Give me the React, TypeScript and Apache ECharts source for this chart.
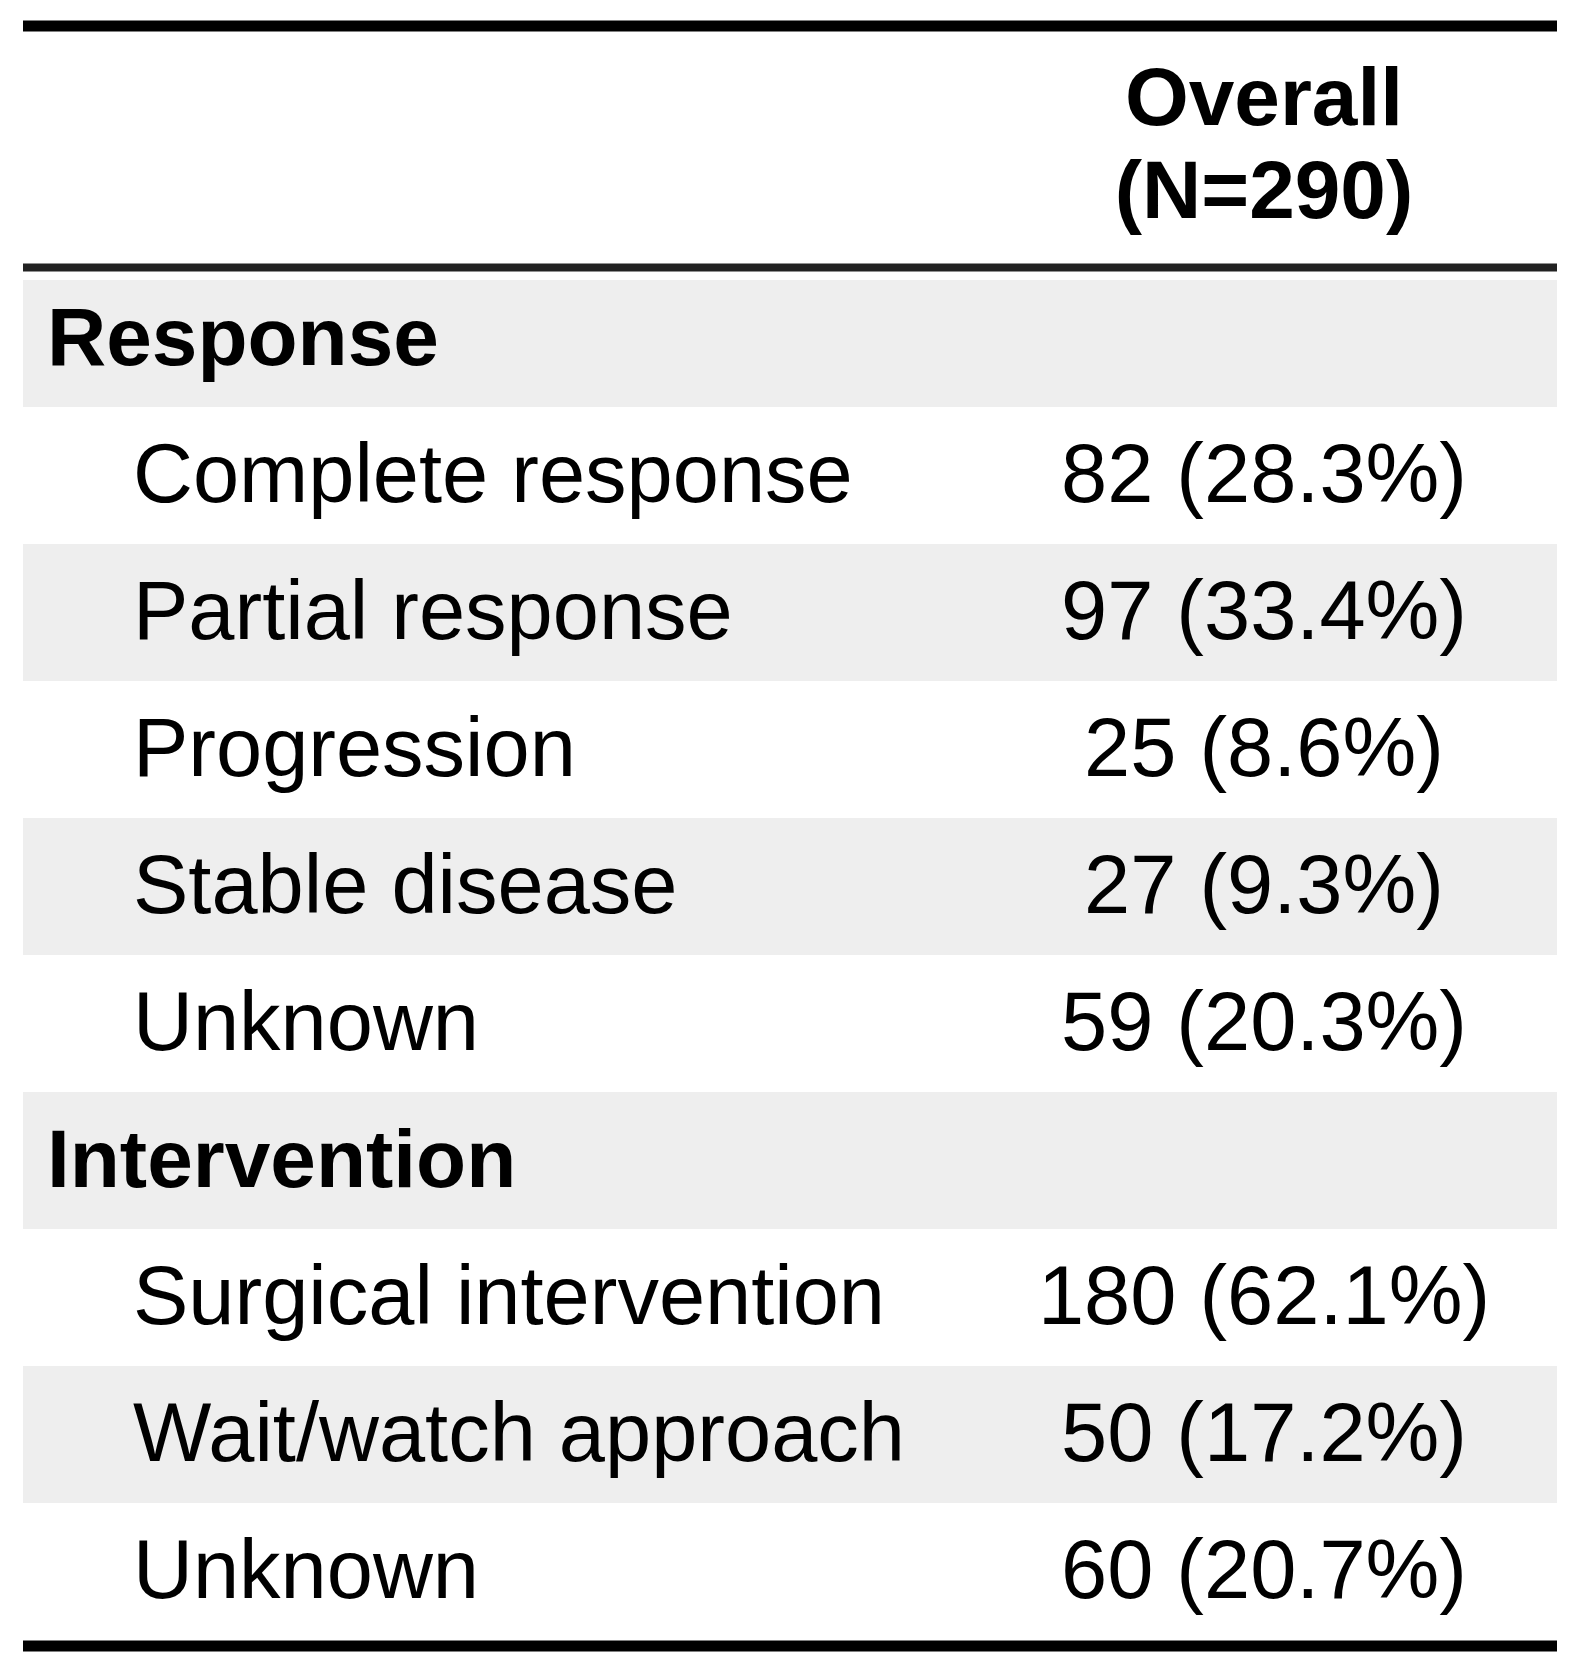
import React, { useEffect, useRef } from "react";
import * as echarts from "echarts";

// ---- data ----
const columnTitle = "Overall";
const totalN = 290;
const groupNames = ["Response", "Intervention"];
const responseLevels = ["Complete response", "Partial response", "Progression", "Stable disease", "Unknown"];
const responseCounts = [82, 97, 25, 27, 59];
const responsePcts = [28.3, 33.4, 8.6, 9.3, 20.3];
const interventionLevels = ["Surgical intervention", "Wait/watch approach", "Unknown"];
const interventionCounts = [180, 50, 60];
const interventionPcts = [62.1, 17.2, 20.7];

type Row = { label: string; value: string; group: boolean };

function buildRows(): Row[] {
  const rows: Row[] = [];
  const add = (g: string, levels: string[], counts: number[], pcts: number[]) => {
    rows.push({ label: g, value: "", group: true });
    levels.forEach((l, i) => rows.push({ label: l, value: `${counts[i]} (${pcts[i].toFixed(1)}%)`, group: false }));
  };
  add(groupNames[0], responseLevels, responseCounts, responsePcts);
  add(groupNames[1], interventionLevels, interventionCounts, interventionPcts);
  return rows;
}

const W = 1589;
const H = 1676;
const FONT = "'Liberation Sans', Arial, sans-serif";
const FS_BOLD = 82;
const FS = 83;

export default function App() {
  const ref = useRef<HTMLDivElement>(null);
  useEffect(() => {
    if (!ref.current) return;
    const chart = echarts.init(ref.current, undefined, { renderer: "svg" });
    const rows = buildRows();
    const left = 23, right = 1557, top = 270, bottom = 1640;
    const valueX = 1264 - left;

    chart.setOption({
      animation: false,
      backgroundColor: "#ffffff",
      grid: { left, top, width: right - left, height: bottom - top },
      xAxis: { type: "value", min: 0, max: right - left, show: false },
      yAxis: { type: "category", inverse: true, data: rows.map((r) => r.label), show: false },
      series: [
        {
          type: "custom",
          coordinateSystem: "cartesian2d",
          data: rows.map((_, i) => [0, i]),
          renderItem: (params: any, api: any) => {
            const i = params.dataIndex;
            const r = rows[i];
            const c = api.coord([0, i]);
            const h = api.size([0, 1])[1];
            const cs = params.coordSys;
            const children: any[] = [];
            if (i % 2 === 0) {
              children.push({
                type: "rect",
                shape: { x: cs.x, y: c[1] - h / 2, width: cs.width, height: h },
                style: { fill: "#eeeeee" },
              });
            }
            children.push({
              type: "text",
              style: {
                text: r.label,
                x: cs.x + (r.group ? 24 : 110),
                y: c[1] - 2,
                align: "left",
                verticalAlign: "middle",
                fontSize: r.group ? FS_BOLD : FS,
                fontFamily: FONT,
                fontWeight: r.group ? "bold" : "normal",
                fill: "#000000",
              },
            });
            if (r.value) {
              const vx = api.coord([valueX, i])[0];
              children.push({
                type: "text",
                style: {
                  text: r.value,
                  x: vx,
                  y: c[1] - 2,
                  align: "center",
                  verticalAlign: "middle",
                  fontSize: FS,
                  fontFamily: FONT,
                  fontWeight: "normal",
                  fill: "#000000",
                },
              });
            }
            return { type: "group", children };
          },
        },
      ],
      graphic: [
        { type: "rect", z: 50, shape: { x: left, y: 262, width: right - left, height: 18 }, style: { fill: "#ffffff" } },
        { type: "line", z: 60, shape: { x1: left, y1: 26, x2: right, y2: 26 }, style: { stroke: "#000000", lineWidth: 11 } },
        { type: "line", z: 60, shape: { x1: left, y1: 267.5, x2: right, y2: 267.5 }, style: { stroke: "#222222", lineWidth: 8 } },
        { type: "line", z: 60, shape: { x1: left, y1: 1646, x2: right, y2: 1646 }, style: { stroke: "#000000", lineWidth: 11 } },
        {
          type: "text", z: 60,
          style: { text: columnTitle, x: 1264, y: 96, align: "center", verticalAlign: "middle", fontSize: FS_BOLD, fontFamily: FONT, fontWeight: "bold", fill: "#000000" },
        },
        {
          type: "text", z: 60,
          style: { text: `(N=${totalN})`, x: 1264, y: 189, align: "center", verticalAlign: "middle", fontSize: FS_BOLD, fontFamily: FONT, fontWeight: "bold", fill: "#000000" },
        },
      ],
    });
    return () => chart.dispose();
  }, []);
  return <div ref={ref} style={{ position: "absolute", left: 0, top: 0, width: W, height: H }} />;
}
